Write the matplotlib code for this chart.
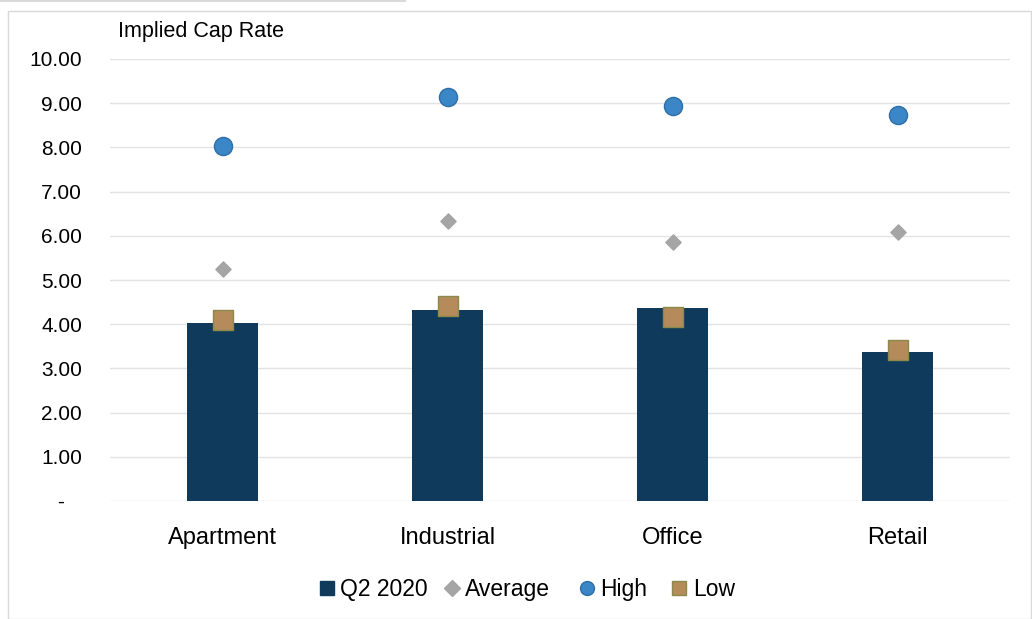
import numpy as np
import matplotlib.pyplot as plt
from matplotlib.patches import Rectangle
from matplotlib.lines import Line2D

plt.rcParams['font.family'] = ['Liberation Sans', 'DejaVu Sans']

categories = ['Apartment', 'Industrial', 'Office', 'Retail']
q2_2020 = [4.03, 4.32, 4.37, 3.37]
average = [5.25, 6.33, 5.86, 6.09]
high = [8.03, 9.14, 8.94, 8.73]
low = [4.10, 4.41, 4.16, 3.42]
yticks = [0, 1, 2, 3, 4, 5, 6, 7, 8, 9, 10]
ytick_labels = ['-   ', '1.00', '2.00', '3.00', '4.00', '5.00', '6.00', '7.00', '8.00', '9.00', '10.00']
series_names = ['Q2 2020', 'Average', 'High', 'Low']

bar_color = '#0F3A5C'
avg_color = '#A5A5A5'
high_color = '#3B86C6'
low_color = '#B58B5C'

W, H = 1032, 619
fig = plt.figure(figsize=(W / 100, H / 100), dpi=100)
# outer frame lines
fig.add_artist(Rectangle((8 / W, 0), 1 - 8 / W - 0.001, 1 - 11 / H, transform=fig.transFigure,
                         fill=False, edgecolor='#D9D9D9', lw=1))
fig.add_artist(Line2D([0, 405 / W], [0.998, 0.998], transform=fig.transFigure, color='#D9D9D9', lw=1.5))

ax = fig.add_axes([110 / W, 1 - 501 / H, 900 / W, 442 / H])
x = np.arange(len(categories))
ax.bar(x, q2_2020, width=0.315, color=bar_color, zorder=2)
ax.scatter(x, average, marker='D', s=60, color=avg_color, zorder=3)
ax.scatter(x, high, marker='o', s=170, color=high_color, edgecolor='#2E6FA8', lw=1, zorder=3)
ax.scatter(x, low, marker='s', s=190, color=low_color, edgecolor='#8A8A4A', lw=1, zorder=4)

ax.set_xlim(-0.5, 3.5)
ax.set_ylim(0, 10)
ax.set_yticks(yticks)
ax.set_yticklabels(ytick_labels)
ax.set_xticks(x)
ax.set_xticklabels(categories, fontsize=17)
ax.tick_params(axis='y', labelsize=15, length=0, pad=20, colors='#000000')
ax.tick_params(axis='x', length=0, pad=19)
ax.grid(axis='y', color='#E3E3E3', lw=1, zorder=0)
for s in ax.spines.values():
    s.set_visible(False)

fig.text(118 / W, 1 - 32 / H, 'Implied Cap Rate', fontsize=15.5, va='center', ha='left')

# legend drawn by hand so text baselines line up
leg_y = 1 - 588 / H
base_y = 1 - 596 / H
marker_x = [327, 452, 587, 679]
text_x = [340, 465, 600, 693]
styles = [dict(marker='s', color=bar_color, markersize=10),
          dict(marker='D', color=avg_color, markersize=8),
          dict(marker='o', color=high_color, markeredgecolor='#2E6FA8', markersize=10),
          dict(marker='s', color=low_color, markeredgecolor='#8A8A4A', markersize=10)]
for mx, tx, name, st in zip(marker_x, text_x, series_names, styles):
    fig.add_artist(Line2D([mx / W], [leg_y], transform=fig.transFigure, ls='', **st))
    fig.text(tx / W, base_y, name, fontsize=16.5, va='baseline', ha='left')

plt.savefig('out.png', dpi=100)
